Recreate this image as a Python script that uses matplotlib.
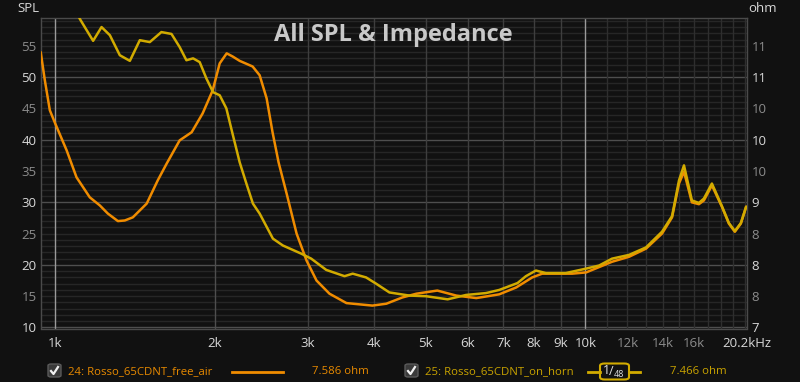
import matplotlib
matplotlib.use("Agg")
import matplotlib.pyplot as plt
from matplotlib.patches import FancyBboxPatch
from matplotlib.lines import Line2D

plt.rcParams['font.family'] = ['Open Sans', 'DejaVu Sans']

# ─── data ────────────────────────────────────────────
free_air_hz = [939, 956, 977, 1000, 1051, 1097, 1162, 1214, 1257, 1313, 1353, 1401, 1488,
               1561, 1623, 1717, 1809, 1897, 1982, 2043, 2106, 2161, 2228, 2357, 2430,
               2505, 2570, 2638, 2732, 2853, 2979, 3111, 3291, 3543, 3965, 4212, 4516,
               4799, 5257, 5707, 6225, 6879, 7405, 7937, 8289, 9441, 10031, 11226, 12087,
               13012, 13947, 14570, 15015, 15344, 15880, 16370, 16729, 17322, 18089,
               18647, 19138, 19643, 20100]
free_air_val = [54.0, 49.5, 44.7, 42.6, 38.3, 34.0, 30.8, 29.5, 28.2, 27.0, 27.1, 27.6, 29.8,
                33.5, 36.2, 39.9, 41.2, 44.2, 47.9, 52.2, 53.8, 53.3, 52.6, 51.7, 50.3,
                46.6, 41.2, 36.4, 31.4, 25.0, 20.7, 17.5, 15.4, 13.9, 13.5, 13.8, 14.8,
                15.4, 15.9, 15.1, 14.7, 15.3, 16.4, 18.0, 18.6, 18.6, 18.8, 20.5, 21.3,
                22.6, 25.0, 27.6, 33.0, 34.9, 30.0, 29.7, 30.3, 32.7, 29.3,
                26.6, 25.3, 26.6, 29.3]

on_horn_hz = [1090, 1113, 1137, 1179, 1223, 1268, 1324, 1383, 1444, 1508, 1586, 1657,
              1717, 1768, 1820, 1873, 1928, 1985, 2043, 2103, 2164, 2228, 2294, 2360,
              2430, 2574, 2688, 2911, 3040, 3245, 3513, 3640, 3858, 4030, 4269, 4656,
              5005, 5497, 5955, 6494, 6879, 7447, 7723, 8065, 8423, 9185, 10019, 10612,
              11226, 12087, 13012, 13947, 14570, 15015, 15344, 15880, 16370, 16729,
              17322, 18089, 18647, 19138, 19643, 20100]
on_horn_val = [61.0, 59.3, 58.0, 55.8, 58.0, 56.7, 53.5, 52.6, 55.9, 55.6, 57.2, 56.9,
               54.8, 52.7, 53.0, 52.4, 49.8, 47.6, 47.1, 45.0, 40.7, 36.4, 33.0, 29.8,
               28.2, 24.2, 23.1, 21.8, 21.0, 19.2, 18.2, 18.6, 18.0, 17.0, 15.6, 15.1,
               15.0, 14.5, 15.2, 15.5, 16.0, 17.1, 18.2, 19.1, 18.7, 18.7, 19.4, 19.9,
               21.0, 21.6, 22.8, 25.3, 27.8, 33.5, 35.9, 30.3, 29.9, 30.6,
               33.0, 29.4, 26.7, 25.4, 26.7, 29.3]

x_ticks = [1000, 2000, 3000, 4000, 5000, 6000, 7000, 8000, 9000, 10000,
           12000, 14000, 16000, 20200]
x_labels = ['1k', '2k', '3k', '4k', '5k', '6k', '7k', '8k', '9k', '10k',
            '12k', '14k', '16k', '20.2kHz']
spl_ticks = [10, 15, 20, 25, 30, 35, 40, 45, 50, 55]
ohm_labels = ['7', '8', '8', '8', '9', '10', '10', '10', '11', '11']

names = ['24: Rosso_65CDNT_free_air', '25: Rosso_65CDNT_on_horn']
cursor_vals = ['7.586 ohm', '7.466 ohm']

# ─── style ───────────────────────────────────────────
BG = '#111111'
ORANGE = '#f08c00'
YELLOW = '#d2ab00'
BRIGHT = '#d8d8d8'
DIM = '#8c8c8c'

W, H = 800, 382
fig = plt.figure(figsize=(8, 3.82), dpi=100, facecolor=BG)
L, R, T, B = 40.7, 747.3, 18.3, 328.5
ax = fig.add_axes([L / W, 1 - B / H, (R - L) / W, (B - T) / H])
ax.set_facecolor(BG)
ax.set_xscale('log')
ax.set_xlim(939, 20200)
ax.set_ylim(9.84, 59.4)

# horizontal grid
for v in range(10, 60):
    c = '#4e4e4e' if v % 10 == 0 else '#262626'
    ax.axhline(v, color=c, lw=1, zorder=0)
# vertical grid
for f in range(3000, 10000, 1000):
    ax.axvline(f, color='#3e3e3e', lw=1, zorder=0)
for f in range(11000, 21000, 1000):
    ax.axvline(f, color='#2e2e2e', lw=1, zorder=0)
ax.axvline(2000, color='#4e4e4e', lw=1, zorder=0)
ax.axvline(1000, color='#9a9a9a', lw=1, zorder=0)
ax.axvline(10000, color='#9a9a9a', lw=1, zorder=0)

ax.plot(free_air_hz, free_air_val, color=ORANGE, lw=1.8, solid_joinstyle='round',
        solid_capstyle='round', zorder=3)
ax.plot(on_horn_hz, on_horn_val, color=YELLOW, lw=1.8, solid_joinstyle='round',
        solid_capstyle='round', zorder=4)

for s in ax.spines.values():
    s.set_color('#4a4a4a')
    s.set_linewidth(1)

ax.set_xticks(x_ticks)
ax.set_xticklabels(x_labels)
ax.xaxis.set_minor_locator(matplotlib.ticker.NullLocator())
ax.tick_params(axis='x', length=0, pad=6, labelsize=9.5)
for lab, t in zip(ax.get_xticklabels(), x_labels):
    lab.set_color(DIM if t in ('12k', '14k', '16k') else BRIGHT)

ax.set_yticks(spl_ticks)
ax.set_yticklabels([str(v) for v in spl_ticks])
ax.tick_params(axis='y', length=0, pad=3, labelsize=9.5)
for lab, v in zip(ax.get_yticklabels(), spl_ticks):
    lab.set_color(BRIGHT if v % 10 == 0 else DIM)

ax2 = ax.twinx()
ax2.set_ylim(ax.get_ylim())
ax2.set_yticks(spl_ticks)
ax2.set_yticklabels(ohm_labels)
ax2.tick_params(axis='y', length=0, pad=3, labelsize=9.5)
for lab, v in zip(ax2.get_yticklabels(), spl_ticks):
    lab.set_color(BRIGHT if v % 10 == 0 else DIM)
for s in ax2.spines.values():
    s.set_visible(False)


def px(x, y):
    return x / W, 1 - y / H


fig.text(*px(28, 9), 'SPL', color=BRIGHT, fontsize=9.5, ha='center', va='center')
fig.text(*px(763, 9), 'ohm', color=BRIGHT, fontsize=9.5, ha='center', va='center')
fig.text(*px(393.5, 35), 'All SPL & Impedance', color='#c8c8c8', fontsize=17,
         fontweight='bold', ha='center', va='center')


# ─── legend row ──────────────────────────────────────
def checkbox(x0, y0):
    (fx, fy) = px(x0, y0 + 13)
    box = FancyBboxPatch((fx, fy), 13 / W, 13 / H, boxstyle='round,pad=0,rounding_size=0.004',
                         transform=fig.transFigure, facecolor='#3a3a3a',
                         edgecolor='#5a5a5a', lw=1)
    fig.patches.append(box)
    xs = [x0 + 3, x0 + 5.5, x0 + 10]
    ys = [y0 + 7, y0 + 10, y0 + 3]
    fig.lines.append(Line2D([x / W for x in xs], [1 - y / H for y in ys],
                            transform=fig.transFigure, color='#f0f0f0', lw=1.6))


LY = 371.5
LEG_FS = 8.2
checkbox(48, 364)
fig.text(*px(68, LY), names[0], color='#e88a00', fontsize=LEG_FS, va='center')
fig.lines.append(Line2D([232 / W, 283 / W], [1 - LY / H] * 2, transform=fig.transFigure,
                        color=ORANGE, lw=2))
fig.text(*px(312, LY), cursor_vals[0], color='#e88a00', fontsize=LEG_FS, va='center')

checkbox(405, 364)
fig.text(*px(425, LY), names[1], color='#c9a300', fontsize=LEG_FS, va='center')
fig.lines.append(Line2D([588 / W, 600 / W], [1 - LY / H] * 2, transform=fig.transFigure,
                        color=YELLOW, lw=2))
fig.lines.append(Line2D([629 / W, 640 / W], [1 - LY / H] * 2, transform=fig.transFigure,
                        color=YELLOW, lw=2))
bx, by = px(600, 379.5)
fig.patches.append(FancyBboxPatch((bx, by), 29 / W, 16 / H,
                                  boxstyle='round,pad=0,rounding_size=0.006',
                                  transform=fig.transFigure, facecolor=BG,
                                  edgecolor=YELLOW, lw=1.5))
fig.text(*px(606, LY - 1), '1', color='#e0e0e0', fontsize=9, ha='center', va='center')
fig.text(*px(611, LY), '/', color='#e0e0e0', fontsize=9, ha='center', va='center')
fig.text(*px(619, LY + 3), '48', color='#e0e0e0', fontsize=6.5, ha='center', va='center')
fig.text(*px(670, LY), cursor_vals[1], color='#c9a300', fontsize=LEG_FS, va='center')

fig.savefig('out.png', dpi=100, facecolor=BG)
